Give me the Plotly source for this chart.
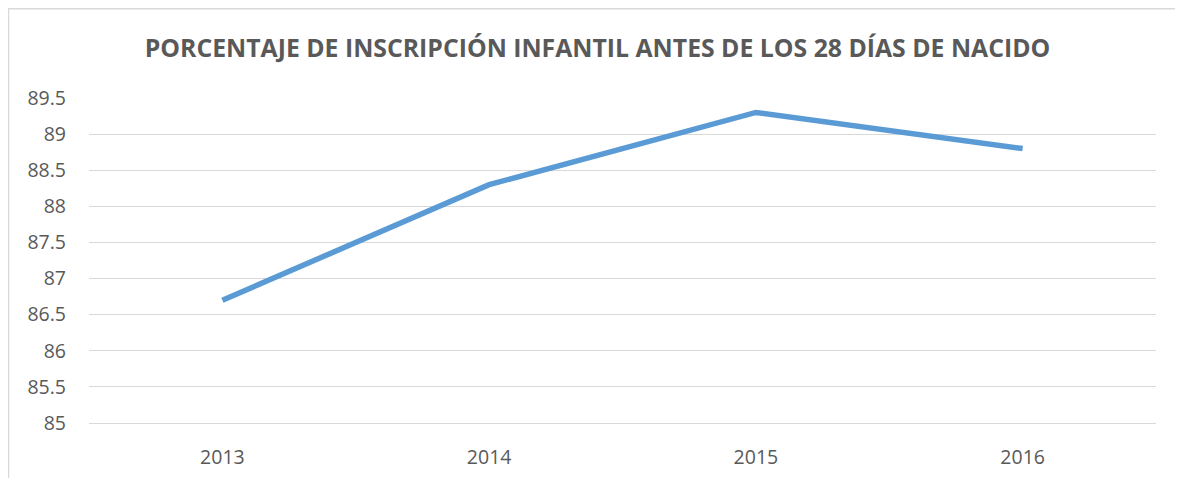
import plotly.graph_objects as go

years = ["2013", "2014", "2015", "2016"]
values = [86.7, 88.3, 89.3, 88.8]
title_text = "PORCENTAJE DE INSCRIPCIÓN INFANTIL ANTES DE LOS 28 DÍAS DE NACIDO"

OFF = 8  # default body margin of the html page
W, H = 1183 - OFF, 478 - OFF
L = 89 - OFF
T = 98 - OFF
R = W - (1156 - OFF)
B = H - (423 - OFF)
pw, ph = W - L - R, H - T - B

def px_x(p):
    return (p - L) / pw

def px_y(p):
    return (H - B - p) / ph

fig = go.Figure()
fig.add_trace(go.Scatter(
    x=years, y=values, mode="lines",
    line=dict(color="#5B9BD5", width=5.5),
    hoverinfo="x+y",
))

bx0, bx1 = px_x(0.5), px_x(W + 20)
by0, by1 = px_y(H + 20), px_y(0.8)
border_path = f"M {bx0},{by0} L {bx0},{by1} L {bx1},{by1}"

fig.update_layout(
    width=W, height=H,
    margin=dict(l=L, r=R, t=T, b=B, autoexpand=False),
    paper_bgcolor="white", plot_bgcolor="white",
    showlegend=False,
    font=dict(family="Open Sans", color="#595959"),
    title=dict(
        text="<b>" + title_text + "</b>",
        x=px_x(597.5 - OFF), xanchor="center", xref="paper",
        y=1 - (48 - OFF) / H, yanchor="middle",
        font=dict(size=24.8, color="#595959", family="Open Sans"),
    ),
    xaxis=dict(
        type="category", range=[-0.5, 3.5], automargin=False,
        showgrid=False, zeroline=False,
        showline=True, linecolor="#D9D9D9", linewidth=1.3,
        ticks="", tickfont=dict(size=19.5, color="#595959"),
        ticklabelstandoff=16,
    ),
    yaxis=dict(
        range=[85, 89.5], dtick=0.5, tick0=85, automargin=False,
        showgrid=True, gridcolor="#D9D9D9", gridwidth=1.3,
        zeroline=False, showline=False, ticks="",
        tickfont=dict(size=19.5, color="#595959"),
        ticklabelstandoff=22,
    ),
    shapes=[dict(
        type="path", xref="paper", yref="paper", path=border_path,
        line=dict(color="#D9D9D9", width=1.5),
        layer="below",
    )],
)

fig.write_html("out.html")
